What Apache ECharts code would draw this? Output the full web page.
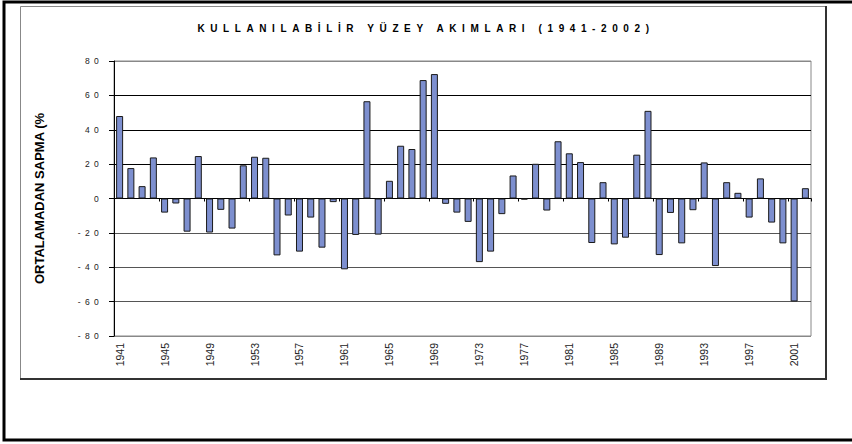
<!DOCTYPE html>
<html>
<head>
<meta charset="utf-8">
<script src="https://cdn.jsdelivr.net/npm/echarts@6/dist/echarts.min.js"></script>
<style>
html,body{margin:0;padding:0;background:#fff;}
#chart{width:852px;height:444px;}
</style>
</head>
<body>
<div id="chart"></div>
<script>
const titleText = 'KULLANILABİLİR YÜZEY AKIMLARI (1941-2002)';
const yAxisName = 'ORTALAMADAN SAPMA (%';
const years = ['1941','1942','1943','1944','1945','1946','1947','1948','1949','1950',
  '1951','1952','1953','1954','1955','1956','1957','1958','1959','1960',
  '1961','1962','1963','1964','1965','1966','1967','1968','1969','1970',
  '1971','1972','1973','1974','1975','1976','1977','1978','1979','1980',
  '1981','1982','1983','1984','1985','1986','1987','1988','1989','1990',
  '1991','1992','1993','1994','1995','1996','1997','1998','1999','2000',
  '2001','2002'];
const deviation = [48, 17.7, 7.2, 23.9, -8.2, -2.9, -19.3, 24.7, -19.8, -6.6,
  -17.5, 19.3, 24.3, 23.7, -33.1, -9.9, -30.9, -11.1, -28.6, -2.1,
  -41.2, -21.2, 56.6, -21, 10.3, 30.7, 28.8, 68.9, 72.4, -3.1,
  -8.2, -13.6, -37, -30.9, -9.1, 13.4, -0.6, 20.2, -7, 33.3,
  26.3, 21.2, -25.9, 9.5, -26.7, -22.8, 25.5, 51, -32.9, -8.4,
  -26.1, -6.8, 21, -39.3, 9.5, 3.3, -11.1, 11.7, -14, -26.1,
  -59.9, 6.0];
const yMin = -80, yMax = 80, yStep = 20;

const chart = echarts.init(document.getElementById('chart'), null, {renderer: 'svg'});
const font = 'Arial, "Liberation Sans", sans-serif';
const option = {
  animation: false,
  backgroundColor: '#fff',
  graphic: [
    {type: 'rect', silent: true, z: -10, shape: {x: 4, y: 2, width: 900, height: 438},
      style: {fill: 'none', stroke: '#000', lineWidth: 3}},
    {type: 'rect', silent: true, z: -9, shape: {x: 20.5, y: 6.5, width: 805, height: 372},
      style: {fill: 'none', stroke: '#888', lineWidth: 1}},
    {type: 'line', silent: true, z: -8, shape: {x1: 826, y1: 6, x2: 826, y2: 380},
      style: {stroke: '#333', lineWidth: 2}},
    {type: 'line', silent: true, z: -8, shape: {x1: 20, y1: 379, x2: 827, y2: 379},
      style: {stroke: '#333', lineWidth: 2}}
  ],
  title: {
    text: titleText,
    left: 421, top: 18, textAlign: 'center',
    textStyle: {fontFamily: font, fontSize: 10, fontWeight: 'bold', color: '#000'}
  },
  grid: {left: 114, right: 41, top: 61, bottom: 108, show: true, borderColor: '#888', borderWidth: 1},
  xAxis: [
    {
      type: 'category', data: years, position: 'bottom',
      axisLine: {show: false, onZero: false},
      axisTick: {show: false},
      axisLabel: {interval: 3, rotate: 90, margin: 7, fontFamily: font, fontSize: 10.5, color: '#222'},
      splitLine: {show: false}
    },
    {
      type: 'category', data: years, position: 'bottom',
      axisLine: {show: true, onZero: true, lineStyle: {color: '#000', width: 1}},
      axisTick: {show: true, length: 3, lineStyle: {color: '#000'}},
      axisLabel: {show: false},
      splitLine: {show: false}
    }
  ],
  yAxis: {
    type: 'value', min: yMin, max: yMax, interval: yStep,
    name: yAxisName, nameLocation: 'middle', nameGap: 68,
    nameTextStyle: {fontFamily: font, fontSize: 13, fontWeight: 'bold', color: '#000'},
    axisLine: {show: true, lineStyle: {color: '#000', width: 1}},
    axisTick: {show: true, length: 5, lineStyle: {color: '#000'}},
    axisLabel: {margin: 11, fontFamily: font, fontSize: 8.5, color: '#222'},
    splitLine: {show: true, lineStyle: {color: ['#888','#555','#555','#555','#000','#000','#000','#000','#888'], width: 1}}
  },
  series: [{
    type: 'bar', data: deviation, xAxisIndex: 0,
    barWidth: 7,
    itemStyle: {color: '#7d8fcf', borderColor: '#1a1a1a', borderWidth: 1}
  }]
};
chart.setOption(option);

function spaceText() {
  const texts = document.querySelectorAll('#chart svg text');
  texts.forEach(t => {
    const s = t.textContent;
    if (s === titleText) {
      t.style.letterSpacing = '5.6px';
    } else if (/^-?\d{1,2}$/.test(s)) {
      t.style.letterSpacing = '4.3px';
    }
  });
}
chart.on('finished', spaceText);
spaceText();
setTimeout(spaceText, 50);
</script>
</body>
</html>
